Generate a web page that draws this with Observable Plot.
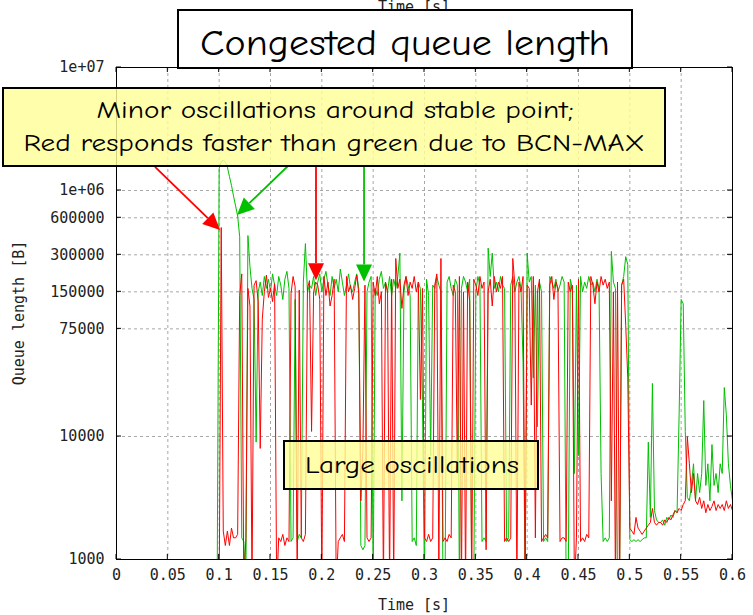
<!DOCTYPE html>
<html><head><meta charset="utf-8">
<script src="https://cdn.jsdelivr.net/npm/d3@7"></script>
<script src="https://cdn.jsdelivr.net/npm/@observablehq/plot@0.6"></script>
<style>body{margin:0;background:#fff} svg{display:block}</style>
</head><body><div id="chart"></div>
<script>
// sampling grid of the trace (s)
const tStart = 0.09, tStep = 0.002;
// queue length, red series (kB)
const redK = [
0.5,0.5,0.5,0.5,0.5,
0.5,500,1.7,1.3,1.7,
1.3,1.8,1.5,1.5,1.6,
140,210,0.6,1.5,160,
115,0.6,170,185,125,
8,90,150,205,135,
160,125,175,0.6,1.5,
1.4,1.6,1.3,1.5,1.4,
145,200,165,0.6,155,
1.5,1.4,1.6,160,185,
11,150,180,170,130,
0.6,200,140,180,115,
140,190,0.6,1.4,1.5,
1.6,1.4,200,150,170,
130,160,205,145,3,
8,170,1.5,1.4,1.5,
180,140,200,120,150,
0.6,180,150,0.6,190,
0.6,280,160,190,110,
170,200,140,180,160,
200,150,180,20,160,
1.5,1.4,1.6,1.4,1.5,
170,210,0.8,280,1.4,
1.5,1.4,1.6,1.5,170,
150,5,200,0.6,150,
0.6,180,125,0.6,190,
170,140,200,160,180,
1.2,150,190,115,200,
150,180,160,200,1.4,
1.5,1.4,1.5,280,170,
0.6,180,150,200,0.6,
170,160,18,200,1.5,
150,190,1.4,1.5,1.6,
1.5,170,200,130,180,
160,1.4,1.5,1.5,1.4,
180,150,170,0.6,1.5,
190,1.4,1.5,1.4,1.6,
1.5,200,170,120,180,
150,200,170,190,160,
180,3,150,0.6,180,
0.6,170,190,80,30,
1.8,1.7,1.6,2.2,1.8,
1.7,1.6,1.7,1.8,1.9,
2.0,2.6,2.0,1.9,2.0,
2.0,1.9,2.1,2.0,2.2,
2.1,2.3,2.5,2.4,2.6,
2.5,2.8,3.0,10,6,
3.5,5,3,2.8,3.2,
2.6,3.0,2.4,2.8,2.5,
2.7,3.0,2.5,2.8,2.6,
2.8,2.5,3.0,2.6,2.8,
2.5
];
// queue length, green series (kB)
const greenK = [
0.5,0.5,0.5,0.5,0.5,
1500,1720,1760,1700,1550,
1300,1100,900,750,620,
420,1.5,1.4,0.6,430,
240,160,130,9,150,
180,140,200,160,190,
150,210,170,140,200,
170,130,190,220,160,
1.4,1.5,130,1.4,1.6,
1.5,180,370,150,170,
160,200,140,180,210,
150,190,220,170,140,
200,160,190,150,230,
180,140,170,210,160,
150,180,210,160,1.3,
1.2,1.3,150,180,200,
0.6,160,140,190,220,
160,180,150,200,140,
190,160,200,310,3,
150,200,170,140,1.4,
1.5,1.3,180,160,20,
0.6,190,140,7,170,
160,200,170,150,0.6,
0.6,180,200,160,140,
190,170,0.6,160,200,
180,150,190,0.6,0.6,
150,200,170,1.4,1.5,
1.4,340,200,310,160,
180,150,200,170,160,
1.4,1.5,170,200,150,
180,200,160,40,0.6,
310,180,200,30,170,
12,180,150,1.4,1.5,
1.4,200,180,160,190,
150,170,200,180,0.6,
0.6,190,160,5,170,
7,200,150,180,160,
200,170,180,150,190,
160,5,1.4,1.5,1.4,
1.5,320,180,160,0.6,
0.6,170,200,290,250,
1.45,1.4,1.45,1.4,1.45,
1.4,1.45,1.5,1.5,9,
2.2,27,2.5,2.1,2.0,
2.0,2.1,1.9,2.2,2.1,
2.3,2.2,2.5,2.4,15,
130,120,11,3.2,3.0,
4,6,3,5,3.5,
5,19.6,4,6,3,
8.6,4,5,3.5,6,
5,25,15,6,4,
3
];
const xTicks = [0,0.05,0.1,0.15,0.2,0.25,0.3,0.35,0.4,0.45,0.5,0.55,0.6];
const xTickLabels = ["0","0.05","0.1","0.15","0.2","0.25","0.3","0.35","0.4","0.45","0.5","0.55","0.6"];
const yTicks = [1000,10000,75000,150000,300000,600000,1000000,10000000];
const yTickLabels = ["1000","10000","75000","150000","300000","600000","1e+06","1e+07"];

const xLab = new Map(xTicks.map((d,i)=>[d,xTickLabels[i]]));
const time = redK.map((_, i) => +(tStart + i*tStep).toFixed(3));
const redData = time.map((t,i)=>({t, q: redK[i]*1000}));
const greenData = time.map((t,i)=>({t, q: greenK[i]*1000}));
const yLabelRows = yTicks.map((v,i)=>({v, label: yTickLabels[i]}));

const RED = "#ff0000", GREEN = "#00c000";
const mono = "'DejaVu Sans Mono', 'Liberation Mono', monospace";
const gridStyle = {stroke: "#a8a8a8", strokeOpacity: 1, strokeDasharray: "3,3", strokeWidth: 1};

const chart = Plot.plot({
  width: 753, height: 615,
  marginLeft: 116, marginRight: 21, marginTop: 67, marginBottom: 56,
  style: {fontFamily: mono, fontSize: "15px", color: "#222", background: "white", overflow: "visible"},
  x: {domain: [0, 0.6]},
  y: {type: "log", domain: [1000, 1e7]},
  marks: [
    Plot.gridX(xTicks, gridStyle),
    Plot.gridY(yTicks, gridStyle),
    Plot.axisX(xTicks, {tickSize: 0, tickPadding: 10, tickFormat: d => xLab.get(d), label: null}),
    Plot.axisY(yTicks, {tickSize: 0, tickFormat: () => "", label: null}),
    Plot.text(yLabelRows, {y: "v", text: "label", frameAnchor: "left", textAnchor: "end", dx: -12, fill: "#222", fontSize: 15}),
    Plot.line(greenData, {x: "t", y: "q", stroke: GREEN, strokeWidth: 1, clip: true}),
    Plot.line(redData, {x: "t", y: "q", stroke: RED, strokeWidth: 1, clip: true}),
    Plot.frame({stroke: "black", strokeWidth: 1})
  ]
});
document.getElementById("chart").appendChild(chart);

// ---- overlay: ticks, labels, annotations ----
const svg = d3.select(chart);
const sx = chart.scale("x"), sy = chart.scale("y");
const X = v => sx.apply(v), Y = v => sy.apply(v);
const x0 = X(0), x1 = X(0.6), yb = Y(1000), yt = Y(1e7);
const g = svg.append("g");
const tl = 5;
xTicks.forEach(t => {
  g.append("line").attr("x1",X(t)).attr("x2",X(t)).attr("y1",yb).attr("y2",yb-tl).attr("stroke","black");
  g.append("line").attr("x1",X(t)).attr("x2",X(t)).attr("y1",yt).attr("y2",yt+tl).attr("stroke","black");
});
yTicks.forEach(v => {
  g.append("line").attr("x1",x0).attr("x2",x0+tl).attr("y1",Y(v)).attr("y2",Y(v)).attr("stroke","black");
  g.append("line").attr("x1",x1).attr("x2",x1-tl).attr("y1",Y(v)).attr("y2",Y(v)).attr("stroke","black");
});
g.append("text").attr("x",414).attr("y",610).attr("text-anchor","middle").attr("fill","#222")
  .style("font-family",mono).style("font-size","15px").text("Time [s]");
g.append("text").attr("x",414).attr("y",12).attr("text-anchor","middle").attr("fill","#222")
  .style("font-family",mono).style("font-size","15px").text("Time [s]");
g.append("text").attr("transform","translate(24,313) rotate(-90)").attr("text-anchor","middle").attr("fill","#222")
  .style("font-family",mono).style("font-size","15px").text("Queue length [B]");

// arrows (data coordinates)
const arrows = [
  {t1: 0.038, v1: 1.54e6, t2: 0.1013, v2: 473000, c: RED},
  {t1: 0.1675, v1: 1.567e6, t2: 0.1179, v2: 627000, c: GREEN},
  {t1: 0.1948, v1: 1.567e6, t2: 0.1948, v2: 185000, c: RED},
  {t1: 0.2416, v1: 1.567e6, t2: 0.2416, v2: 180000, c: GREEN}
];
const ag = svg.append("g");
arrows.forEach(a => {
  const px1 = X(a.t1), py1 = Y(a.v1), px2 = X(a.t2), py2 = Y(a.v2);
  const dx = px2-px1, dy = py2-py1, L = Math.hypot(dx,dy), ux = dx/L, uy = dy/L;
  const hl = 17, hw = 8;
  const bx = px2 - ux*hl, by = py2 - uy*hl;
  ag.append("line").attr("x1",px1).attr("y1",py1).attr("x2",bx).attr("y2",by)
    .attr("stroke",a.c).attr("stroke-width",1.8);
  ag.append("polygon").attr("points",
    [[px2,py2],[bx - uy*hw, by + ux*hw],[bx + uy*hw, by - ux*hw]].map(p=>p.join(",")).join(" "))
    .attr("fill",a.c);
});

// annotation boxes
const hand = "'Comic Sans MS','Comic Neue','Open Sans',sans-serif";
function box(x,y,w,h,fill,op){
  svg.append("rect").attr("x",x).attr("y",y).attr("width",w).attr("height",h)
    .attr("fill",fill).attr("fill-opacity",op).attr("stroke","black").attr("stroke-width",2);
}
function label(x,y,txt,size,len){
  svg.append("text").attr("x",x).attr("y",y).attr("text-anchor","middle").attr("fill","black")
    .attr("textLength",len).attr("lengthAdjust","spacingAndGlyphs")
    .style("font-family",hand).style("font-size",size+"px").text(txt);
}
box(178,10,454,58,"white",1);
label(405,55,"Congested queue length",36,410);
box(3,88,662,78,"#ffff99",0.82);
label(335,118,"Minor oscillations around stable point;",24,477);
label(334,151,"Red responds faster than green due to BCN-MAX",24,621);
box(284,441,254,48,"#ffff99",0.82);
label(412,473,"Large oscillations",24,214);
</script>
</body></html>
